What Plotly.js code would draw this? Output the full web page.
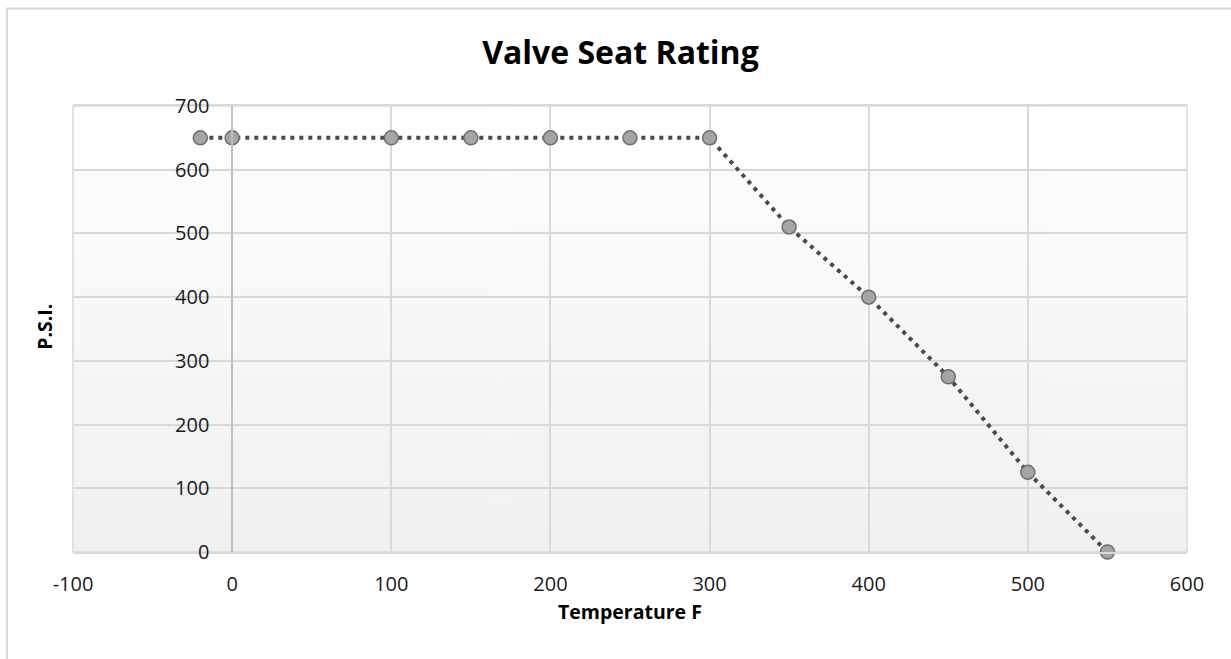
<!DOCTYPE html>
<html>
<head>
<meta charset="utf-8">
<script src="https://cdn.plot.ly/plotly-3.0.1.min.js"></script>
<style>
  html, body { margin: 0; padding: 0; background: #ffffff; }
  #chart { width: 1231px; height: 659px; }
</style>
</head>
<body>
<div id="chart"></div>
<script>
// Data
const temperatureF = [-20, 0, 100, 150, 200, 250, 300, 350, 400, 450, 500, 550];
const psi          = [650, 650, 650, 650, 650, 650, 650, 510, 400, 275, 125, 0];
const xTicks = [-100, 0, 100, 200, 300, 400, 500, 600];
const yTicks = [0, 100, 200, 300, 400, 500, 600, 700];

// background gradient for the plot area
function gradientURL() {
  const c = document.createElement('canvas');
  c.width = 4; c.height = 256;
  const g = c.getContext('2d');
  const gr = g.createLinearGradient(0, 0, 0, 256);
  gr.addColorStop(0, '#ffffff');
  gr.addColorStop(1, '#f0f0f0');
  g.fillStyle = gr;
  g.fillRect(0, 0, 4, 256);
  return c.toDataURL('image/png');
}

const FONT = '"Open Sans", Lato, sans-serif';

const trace = {
  x: temperatureF,
  y: psi,
  type: 'scatter',
  mode: 'lines+markers',
  line: { color: '#4a4a4a', width: 4, dash: '4px,5px' },
  marker: { size: 14, color: '#a5a5a5', line: { color: '#6e6e6e', width: 1.5 } },
  cliponaxis: false,
  hoverinfo: 'x+y'
};

const layout = {
  width: 1231,
  height: 659,
  margin: { l: 73, r: 44, t: 106, b: 107 },
  paper_bgcolor: '#ffffff',
  plot_bgcolor: 'rgba(0,0,0,0)',
  showlegend: false,
  font: { family: FONT, color: '#1a1a1a', size: 20 },
  title: {
    text: '<b>Valve Seat Rating</b>',
    font: { family: FONT, size: 32, color: '#000000' },
    xref: 'container', x: 0.504, xanchor: 'center',
    yref: 'container', y: 0.92, yanchor: 'middle'
  },
  xaxis: {
    range: [-100, 600],
    tickvals: xTicks,
    ticktext: xTicks.map(String),
    showgrid: true,
    gridcolor: '#d9d9d9',
    gridwidth: 1.5,
    zeroline: false,
    showline: true,
    linecolor: '#d9d9d9',
    linewidth: 1.5,
    mirror: true,
    ticks: '',
    ticklabelstandoff: 13,
    tickfont: { family: FONT, size: 20, color: '#1a1a1a' },
    fixedrange: true
  },
  yaxis: {
    range: [0, 700],
    tickvals: yTicks,
    ticktext: yTicks.map(String),
    anchor: 'free',
    position: 100 / 700,
    showgrid: true,
    gridcolor: '#d9d9d9',
    gridwidth: 1.5,
    zeroline: false,
    showline: true,
    linecolor: '#bfbfbf',
    linewidth: 1.5,
    ticks: '',
    ticklabelstandoff: 18,
    tickfont: { family: FONT, size: 20, color: '#1a1a1a' },
    fixedrange: true
  },
  images: [{
    source: gradientURL(),
    xref: 'paper', yref: 'paper',
    x: 0, y: 1, sizex: 1, sizey: 1,
    xanchor: 'left', yanchor: 'top',
    sizing: 'stretch',
    layer: 'below'
  }],
  shapes: [
    // plot-area frame
    { type: 'rect', xref: 'paper', yref: 'paper', x0: 0, x1: 1, y0: 0, y1: 1,
      line: { color: '#d9d9d9', width: 1.5 }, layer: 'below' },
    // outer chart frame (extends past the window on right/bottom)
    { type: 'rect', xref: 'paper', yref: 'paper', x0: -0.0592, x1: 1.1, y0: -0.3, y1: 1.2186,
      line: { color: '#d9d9d9', width: 2 }, layer: 'below' }
  ],
  annotations: [
    { text: '<b>Temperature F</b>', xref: 'paper', yref: 'paper', x: 0.5, y: -0.1345,
      xanchor: 'center', yanchor: 'middle', showarrow: false,
      font: { family: FONT, size: 19.5, color: '#000000' } },
    { text: '<b>P.S.I.</b>', xref: 'paper', yref: 'paper', x: -0.0251, y: 0.505,
      xanchor: 'center', yanchor: 'middle', textangle: -90, showarrow: false,
      font: { family: FONT, size: 19.5, color: '#000000' } }
  ]
};

Plotly.newPlot('chart', [trace], layout, { displayModeBar: false });
</script>
</body>
</html>
